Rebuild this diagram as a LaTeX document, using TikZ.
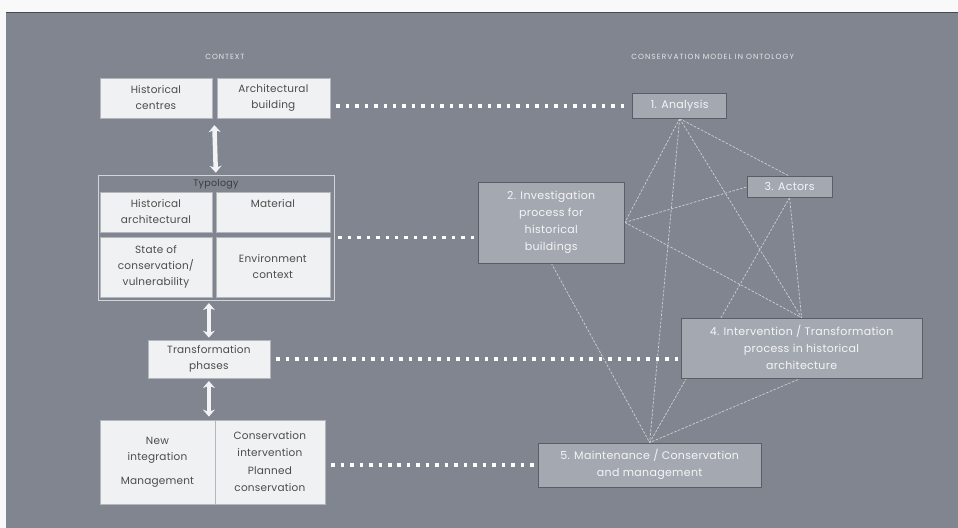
\documentclass[tikz,border=0pt]{standalone}
\usepackage{fontspec}
\setmainfont{Poppins}
\usetikzlibrary{arrows.meta,positioning,calc}
\definecolor{slate}{RGB}{128,133,143}
\definecolor{paper}{RGB}{240,241,243}
\definecolor{ontofill}{RGB}{163,168,177}
\definecolor{linkgray}{RGB}{204,208,214}
\pgfdeclarelayer{bg}
\pgfdeclarelayer{links}
\pgfsetlayers{bg,links,main}
\tikzset
{
    ctxbox/.style  = {draw=slate!60, fill=paper, align=center, font=\fontsize{10.5}{16}\selectfont\addfontfeature{LetterSpace=2}, text=black!70, inner sep=1pt},
    ontobox/.style = {draw=slate!70!black, fill=ontofill, align=center, font=\fontsize{11}{17}\selectfont\addfontfeature{LetterSpace=3}, text=white!92!slate, inner sep=2pt},
    heading/.style = {font=\fontsize{7.5}{9}\selectfont\addfontfeature{LetterSpace=12}, text=white!80!slate},
    dbl/.style     = {{Stealth[length=7pt,width=12pt]}-{Stealth[length=7pt,width=12pt]}, line width=4.5pt, draw=white!90!slate},
    dots/.style    = {draw=white, line width=3.5pt, dash pattern=on 3.5pt off 6pt},
    link/.style    = {draw=linkgray, line width=0.7pt, dash pattern=on 2.5pt off 1.5pt}
}

\begin{document}
\begin{tikzpicture}[x=1pt, y=-1pt]
    \begin{pgfonlayer}{bg}
        \fill [white!95!slate] (0,0) rectangle (958,528);
        \fill [slate] (6,13) rectangle (958,528);
        \draw [slate!55!black, line width=1pt] (6,13) -- (958,13);
    \end{pgfonlayer}

    \node [heading] (ctx) at (225,57) {CONTEXT};
    \node [heading, font=\fontsize{7.5}{9}\selectfont\addfontfeature{LetterSpace=14}] (ont) at (713,57) {CONSERVATION MODEL IN ONTOLOGY};

    \node [ctxbox, minimum width=112pt, minimum height=40pt] (hc) at (156,98) {Historical\\centres};
    \node [ctxbox, minimum width=113pt, minimum height=40pt] (ab) at (273.5,98) {Architectural\\building};

    \node [draw=white!65!slate, minimum width=236pt, minimum height=125pt] (frm) at (216,237.5) {};
    \node [font=\fontsize{9.5}{10}\selectfont\addfontfeature{LetterSpace=3}, text=slate!45!black, below=1pt of frm.north] (typ) {Typology};
    \node [ctxbox, minimum width=112pt, minimum height=40pt] (ha) at (156,212) {Historical\\architectural};
    \node [ctxbox, minimum width=114pt, minimum height=40pt, text depth=17pt] (mat) at (273,212) {Material};
    \node [ctxbox, minimum width=112pt, minimum height=60pt] (soc) at (156,267) {State of\\conservation/\\vulnerability};
    \node [ctxbox, minimum width=114pt, minimum height=60pt] (env) at (273,267) {Environment\\context};

    \node [ctxbox, minimum width=122pt, minimum height=38pt] (tp) at (209,359) {Transformation\\phases};

    \node [ctxbox, minimum width=115pt, minimum height=84pt] (ni) at (157.5,462) {New\\integration\\[8pt]Management};
    \node [ctxbox, minimum width=110pt, minimum height=84pt, font=\fontsize{10.5}{17.5}\selectfont\addfontfeature{LetterSpace=2}] (ci) at (270,462) {Conservation\\intervention\\Planned\\conservation};

    \draw [dbl, shorten >=2pt] ($(hc.south east)!.5!(ab.south west)$) ++(0,7) -- (frm.north);
    \draw [dbl, shorten <=3pt, shorten >=2pt] (tp.north |- frm.south) -- (tp.north);
    \draw [dbl, shorten <=3pt, shorten >=3pt] (tp.south) -- (tp.south |- ni.north);

    \node [ontobox, minimum width=94pt, minimum height=25pt] (A) at (680,106) {1. Analysis};
    \node [ontobox, minimum width=147pt, minimum height=81pt] (B) at (551.5,222.5) {2. Investigation\\process for\\historical\\buildings};
    \node [ontobox, minimum width=85pt, minimum height=21pt] (C) at (790,187) {3. Actors};
    \node [ontobox, minimum width=241pt, minimum height=60pt] (D) at (802,348) {4. Intervention / Transformation\\process in historical\\architecture};
    \node [ontobox, minimum width=224pt, minimum height=44pt] (E) at (650,465) {5. Maintenance / Conservation\\and management};

    \begin{pgfonlayer}{links}
        \draw [link] (A.south) -- (C.north);
        \draw [link] (A.south) -- (B.east);
        \draw [link] (A.south) -- (D.north);
        \draw [link] (A.south) -- (E.north);
        \draw [link] (B.east) -- (C.west);
        \draw [link] (B.east) -- (D.north);
        \draw [link] (B.south) -- (E.north);
        \draw [link] (C.south) -- (D.north);
        \draw [link] (C.south) -- (E.north);
        \draw [link] (D.south) -- (E.north);
    \end{pgfonlayer}

    \draw [dots, shorten <=6pt, shorten >=3pt] (A.west -| ab.east) -- (A.west);
    \draw [dots, shorten <=4pt, shorten >=3pt] (frm.east) -- (frm.east -| B.west);
    \draw [dots, shorten <=6pt, shorten >=3pt] (tp.east) -- (tp.east -| D.west);
    \draw [dots, shorten <=6pt, shorten >=3pt] (E.west -| ci.east) -- (E.west);
\end{tikzpicture}
\end{document}
